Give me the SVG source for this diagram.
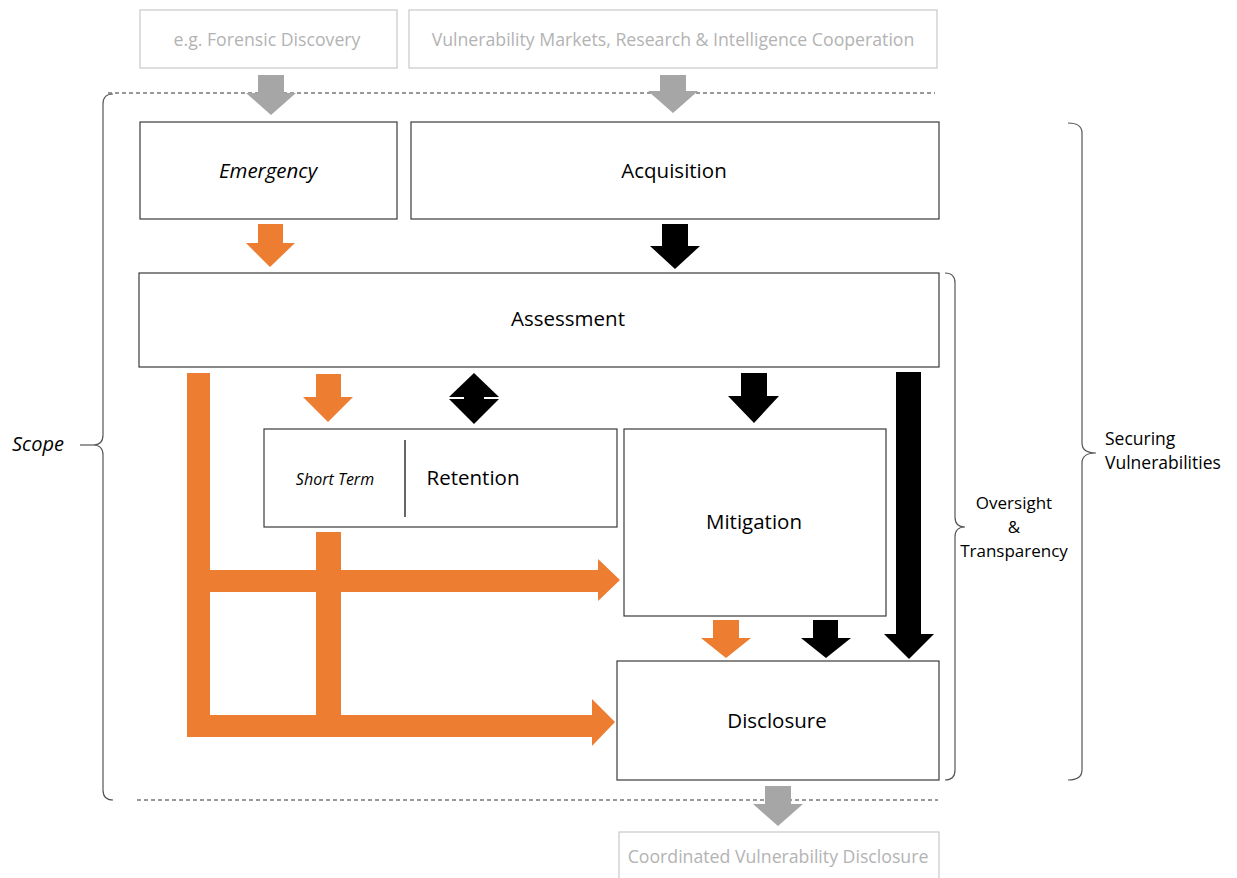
<svg xmlns="http://www.w3.org/2000/svg" width="1237" height="878" viewBox="0 0 1237 878">
<style>
.box{fill:#fff;stroke:#3a3a3a;stroke-width:1.2}
.gbox{fill:#fff;stroke:#c9c9c9;stroke-width:1.2}
.t{font-family:"Open Sans","Noto Sans",sans-serif;font-size:20.5px;fill:#000;text-anchor:middle}
.gt{font-family:"Open Sans","Noto Sans",sans-serif;font-size:17.7px;fill:#b3b3b3;text-anchor:middle}
.it{font-style:italic}
.or{fill:#ED7D31}
.bk{fill:#000}
.gr{fill:#A6A6A6}
.dash{stroke:#333;stroke-width:1;stroke-dasharray:4 3;fill:none}
.brace{fill:none;stroke:#555;stroke-width:1.2}
.lbl{font-family:"Open Sans","Noto Sans",sans-serif;font-size:17px;fill:#000}
</style>
<rect width="1237" height="878" fill="#fff"/>

<g id="scope-lines">
<line class="dash" x1="108" y1="93" x2="935" y2="93"/>
<line class="dash" x1="137" y1="800" x2="938" y2="800"/>
</g>

<g id="src-forensic"><rect class="gbox" x="140" y="10" width="257" height="58"/><text class="gt" x="267" y="46">e.g. Forensic Discovery</text></g>
<g id="src-markets"><rect class="gbox" x="409" y="10" width="528" height="58"/><text class="gt" x="673" y="46">Vulnerability Markets, Research &amp; Intelligence Cooperation</text></g>

<g id="emergency"><rect class="box" x="140" y="122" width="257" height="97"/><text class="t it" x="268" y="178">Emergency</text></g>
<g id="acquisition"><rect class="box" x="411" y="122" width="528" height="97"/><text class="t" x="674" y="178">Acquisition</text></g>
<g id="assessment"><rect class="box" x="139" y="273" width="800" height="94"/><text class="t" x="568" y="326">Assessment</text></g>
<g id="retention"><rect class="box" x="264" y="429" width="353" height="98"/><line x1="405" y1="440" x2="405" y2="517" stroke="#000" stroke-width="1.2"/><text class="t it" x="335" y="485" style="font-size:16px">Short Term</text><text class="t" x="473" y="485">Retention</text></g>
<g id="mitigation"><rect class="box" x="624" y="429" width="262" height="187"/><text class="t" x="754" y="529">Mitigation</text></g>
<g id="disclosure"><rect class="box" x="617" y="661" width="322" height="119"/><text class="t" x="777" y="728">Disclosure</text></g>
<g id="cvd"><rect class="gbox" x="619" y="832" width="320" height="60"/><text class="gt" x="778" y="863">Coordinated Vulnerability Disclosure</text></g>

<g id="connectors">
<polygon class="gr" points="258,75 284,75 284,93 296,93 271,115 246,93 258,93"/>
<polygon class="gr" points="660,75 686,75 686,91 698,91 673,113 648,91 660,91"/>
<polygon class="or" points="258,224 283,224 283,243 295,243 270,267 246,243 258,243"/>
<polygon class="bk" points="662,224 688,224 688,246 700,246 675,269 650,246 662,246"/>
<polygon class="or" points="316,374 341,374 341,397 353,397 328,422 303,397 316,397"/>
<polygon class="bk" points="474,373 499,397 449,397"/>
<polygon class="bk" points="449,399 499,399 474,424"/>
<rect class="bk" x="464" y="392" width="20" height="12"/>
<polygon class="bk" points="741,373 767,373 767,396 779,396 754,423 728,396 741,396"/>
<polygon class="bk" points="896,372 921,372 921,634 934,634 909,659 884,634 896,634"/>
<rect class="or" x="187" y="373" width="23" height="364"/>
<rect class="or" x="316" y="532" width="25" height="190"/>
<polygon class="or" points="210,570 598,570 598,559 620,580 598,601 598,592 210,592"/>
<polygon class="or" points="187,715 592,715 592,699 615,722 592,746 592,737 187,737"/>
<polygon class="or" points="713,620 739,620 739,638 751,638 726,658 701,638 713,638"/>
<polygon class="bk" points="813,620 838,620 838,638 851,638 826,658 801,638 813,638"/>
<polygon class="gr" points="765,786 791,786 791,804 803,804 778,826 753,804 765,804"/>
</g>

<g id="scope-brace">
<path class="brace" d="M113,94 Q103,94 103,104 L103,435 Q103,445 93,445 Q103,445 103,455 L103,790 Q103,800 113,800"/>
<line x1="80" y1="445" x2="93" y2="445" stroke="#555" stroke-width="1.2"/>
<text class="lbl it" x="12" y="451" style="font-size:20px">Scope</text>
</g>
<g id="oversight-brace">
<path class="brace" d="M945,273 Q955,273 955,283 L955,517 Q955,527 965,527 Q955,527 955,537 L955,770 Q955,780 945,780"/>
<text class="lbl" x="1014" y="509" text-anchor="middle">Oversight</text>
<text class="lbl" x="1014" y="533" text-anchor="middle">&amp;</text>
<text class="lbl" x="1014" y="557" text-anchor="middle">Transparency</text>
</g>
<g id="securing-brace">
<path class="brace" d="M1068,123 Q1082,123 1082,133 L1082,443 Q1082,453 1096,453 Q1082,453 1082,463 L1082,770 Q1082,780 1068,780"/>
<text class="lbl" x="1105" y="445" style="font-size:17.5px">Securing</text>
<text class="lbl" x="1105" y="469" style="font-size:17.5px">Vulnerabilities</text>
</g>
</svg>
